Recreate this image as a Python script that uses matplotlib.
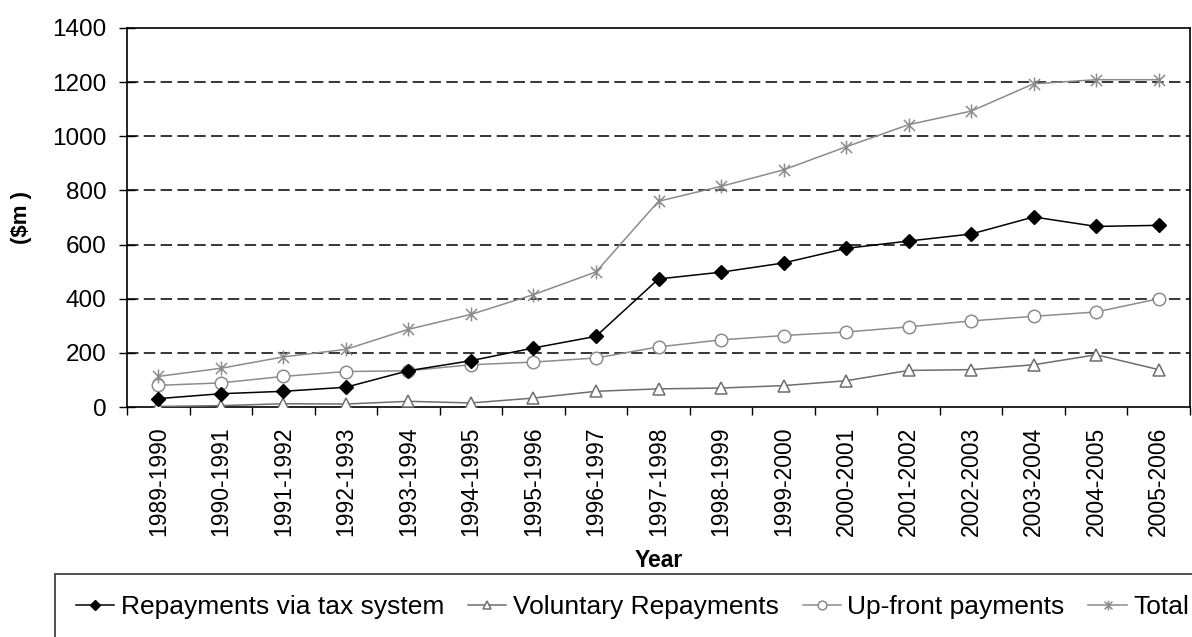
import numpy as np
import matplotlib
matplotlib.use("Agg")
import matplotlib.pyplot as plt
from matplotlib.path import Path

plt.rcParams['font.family'] = ['Liberation Sans', 'DejaVu Sans']

years = ["1989-1990", "1990-1991", "1991-1992", "1992-1993", "1993-1994",
         "1994-1995", "1995-1996", "1996-1997", "1997-1998", "1998-1999",
         "1999-2000", "2000-2001", "2001-2002", "2002-2003", "2003-2004",
         "2004-2005", "2005-2006"]

tax_system = [31, 49, 58, 73, 134, 171, 218, 261, 473, 498, 532, 586, 613, 639, 702, 667, 671]
voluntary = [2, 5, 12, 11, 21, 15, 33, 58, 67, 70, 79, 97, 135, 138, 156, 193, 138]
up_front = [80, 89, 113, 131, 134, 156, 166, 181, 222, 248, 264, 277, 296, 318, 335, 351, 400]
total = [113, 143, 185, 213, 287, 342, 415, 499, 760, 815, 876, 961, 1043, 1093, 1194, 1209, 1209]

# asterisk marker like excel: X plus a vertical bar
star = Path([(-1, -1), (1, 1), (-1, 1), (1, -1), (0, -1.25), (0, 1.25)],
            [Path.MOVETO, Path.LINETO, Path.MOVETO, Path.LINETO, Path.MOVETO, Path.LINETO])

W, H = 1192, 637
fig = plt.figure(figsize=(W / 100, H / 100), dpi=100)
ax = fig.add_axes([127 / W, 1 - 407 / H, (1190 - 127) / W, (407 - 28) / H])

x = np.arange(len(years))

ax.plot(x, tax_system, color='black', lw=1.1, marker='D', ms=7,
        mfc='black', mec='black', label='Repayments via tax system', zorder=4)
ax.plot(x, voluntary, color='#6e6e6e', lw=1.1, marker='^', ms=9,
        mfc='white', mec='#6e6e6e', mew=1.1, label='Voluntary Repayments', zorder=3)
ax.plot(x, up_front, color='#8c8c8c', lw=1.1, marker='o', ms=9,
        mfc='white', mec='#8c8c8c', mew=1.1, label='Up-front payments', zorder=3)
ax.plot(x, total, color='#8c8c8c', lw=1.1, marker=star, ms=10,
        mfc='none', mec='#8c8c8c', mew=1.1, label='Total', zorder=3)

ax.set_xlim(-0.5, len(years) - 0.5)
ax.set_ylim(0, 1400)
ax.set_yticks(range(0, 1401, 200))

for v in range(200, 1400, 200):
    ax.axhline(v, color='black', lw=1.1, ls=(0, (7.5, 3.5)), zorder=1)

# ticks between categories, labels at the categories
ax.set_xticks(np.arange(-0.5, len(years), 1.0))
ax.set_xticklabels([])
ax.set_xticks(x, minor=True)
ax.set_xticklabels(years, minor=True, rotation=90)
ax.tick_params(axis='x', which='major', direction='out', length=6, width=1, color='black')
ax.tick_params(axis='x', which='minor', length=0, pad=14, labelsize=16.5)
ax.tick_params(axis='y', direction='inout', length=12, width=1, pad=9, labelsize=17.5)

for s in ax.spines.values():
    s.set_linewidth(1.2)
    s.set_color('black')

ax.set_xlabel('Year', fontsize=16.5, fontweight='bold', labelpad=9)
ax.set_ylabel('($m )', fontsize=16, fontweight='bold')
ax.yaxis.set_label_coords((21 - 127) / (1190 - 127), 0.5)
ax.yaxis.label.set_va('center')

leg = fig.legend(loc='upper left', bbox_to_anchor=(55 / W, 1 - 574 / H),
                 ncol=4, fontsize=19, frameon=True, fancybox=False,
                 edgecolor='black', borderaxespad=0, borderpad=0.8,
                 handlelength=1.45, handletextpad=0.25, columnspacing=0.9,
                 markerscale=0.7)
leg.get_frame().set_linewidth(1.2)

fig.savefig('out.png', dpi=100)
